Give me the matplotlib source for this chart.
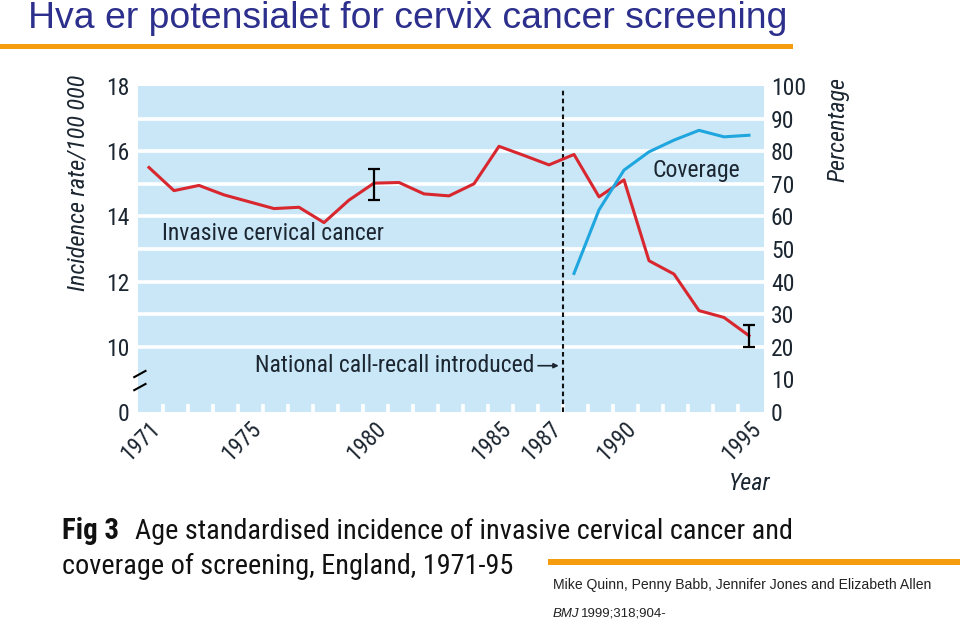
import matplotlib
matplotlib.use('Agg')
import matplotlib.pyplot as plt
from matplotlib import font_manager
from matplotlib.patches import Rectangle

# incidence of invasive cervical cancer per 100 000 (left axis)
years = list(range(1971, 1996))
incidence = [15.5, 14.79, 14.95, 14.66, 14.45, 14.24, 14.28, 13.81, 14.5, 15.02,
             15.04, 14.69, 14.63, 15.0, 16.15, 15.87, 15.58, 15.9, 14.6, 15.12,
             12.64, 12.23, 11.11, 10.9, 10.34]
# screening coverage in percent (right axis)
cov_years = list(range(1988, 1996))
coverage = [42.5, 62, 74.2, 79.8, 83.4, 86.4, 84.4, 84.9]
# confidence intervals
err_years = [1980, 1995]
err_low = [14.5, 10.0]
err_high = [15.46, 10.67]

year_labels = [1971, 1975, 1980, 1985, 1987, 1990, 1995]
left_ticks = [8, 10, 12, 14, 16, 18]   # axis is broken: 8 is shown as 0
left_labels = ['0', '10', '12', '14', '16', '18']
right_ticks = list(range(0, 101, 10))
grid_pct = list(range(20, 100, 10))
call_recall = 1987.56

RED = '#d8272e'
BLUE = '#1fa6df'
BG = '#c9e7f7'
DARK = '#1c2631'
ORANGE = '#f59d0e'
TITLE = '#2c2f8c'

avail = font_manager.fontManager.ttflist
names = {f.name for f in avail}
narrow = 'Roboto Condensed' if 'Roboto Condensed' in names else 'Liberation Sans'
nf = dict(family=narrow)

fig = plt.figure(figsize=(9.6, 6.21), dpi=100)
ax = fig.add_axes([138 / 960, 1 - 412 / 621, 626 / 960, 326 / 621])
ax2 = ax.twinx()

ax.set_facecolor(BG)
for a in (ax, ax2):
    for s in a.spines.values():
        s.set_visible(False)

ax.set_xlim(1970.56, 1995.6)
ax.set_ylim(8, 18)
ax2.set_ylim(0, 100)

# white bands
for p in grid_pct:
    ax.axhline(8 + p / 10, color='white', lw=2.6, zorder=1)

ax.plot(years, incidence, color=RED, lw=2.2, zorder=3)
mid = [(lo + hi) / 2 for lo, hi in zip(err_low, err_high)]
half = [(hi - lo) / 2 for lo, hi in zip(err_low, err_high)]
ax.errorbar(err_years, mid, yerr=half, fmt='none', ecolor='black', elinewidth=1.6,
            capsize=4, capthick=1.6, zorder=4)
ax2.plot(cov_years, coverage, color=BLUE, lw=2.2, zorder=3)

ax.axvline(call_recall, ymax=0.99, color='#111111', lw=1.5, ls=(0, (2.2, 1.6)), zorder=2)

# ticks
ax.set_xticks(year_labels)
ax.set_xticklabels([str(y) for y in year_labels], rotation=45, ha='right',
                   rotation_mode='anchor', fontsize=16.5, color=DARK, **nf)
ax.set_xticks([y + 0.56 for y in years[:-1]], minor=True)
ax.tick_params(axis='x', which='major', length=0, pad=4)
ax.tick_params(axis='x', which='minor', direction='in', length=6, width=2.6, color='white')
ax.set_yticks(left_ticks)
ax.set_yticklabels(left_labels, fontsize=17, color=DARK, **nf)
ax.tick_params(axis='y', length=0, pad=6)
ax2.set_yticks(right_ticks)
ax2.set_yticklabels([str(v) for v in right_ticks], fontsize=17, color=DARK, **nf)
ax2.tick_params(axis='y', length=0, pad=5)

# axis break marks
for y0 in (0.067, 0.107):
    ax.plot([-0.006, 0.012], [y0, y0 + 0.019], transform=ax.transAxes, color='black',
            lw=1.5, clip_on=False)

ax.text(1971.52, 13.49, 'Invasive cervical cancer', fontsize=17, color=DARK, ha='left',
        va='center', **nf)
ax2.text(1991.12, 74.2, 'Coverage', fontsize=17, color=DARK, ha='left', va='center', **nf)
ax.text(1975.24, 9.44, 'National call-recall introduced', fontsize=17, color=DARK,
        ha='left', va='center', **nf)
ax.annotate('', xy=(1987.5, 9.42), xytext=(1986.45, 9.42),
            arrowprops=dict(arrowstyle='-|>', lw=1.2, color=DARK, mutation_scale=7))

fig.text(78 / 960, 1 - 183 / 621, 'Incidence rate/100 000', rotation=90, ha='center',
         va='center', fontsize=17.6, style='italic', color=DARK, **nf)
fig.text(838 / 960, 1 - 130 / 621, 'Percentage', rotation=90, ha='center', va='center',
         fontsize=17.4, style='italic', color=DARK, **nf)
fig.text(750 / 960, 1 - 484 / 621, 'Year', ha='center', va='center', fontsize=17.4,
         style='italic', color=DARK, **nf)

# slide title and decorations
fig.text(28 / 960, 1 - 28 / 621, 'Hva er potensialet for cervix cancer screening',
         ha='left', va='baseline', fontsize=26.9, color=TITLE, family='Liberation Sans')
fig.add_artist(Rectangle((0, 1 - 49 / 621), 793 / 960, 5 / 621, transform=fig.transFigure,
                         color=ORANGE, lw=0))
fig.add_artist(Rectangle((548 / 960, 1 - 565 / 621), 412 / 960, 6 / 621,
                         transform=fig.transFigure, color=ORANGE, lw=0))

fig.text(62 / 960, 1 - 531 / 621, 'Fig 3', ha='left', va='center', fontsize=20.8,
         weight='bold', color='#111111', **nf)
fig.text(135 / 960, 1 - 531 / 621,
         'Age standardised incidence of invasive cervical cancer and',
         ha='left', va='center', fontsize=20.3, color='#111111', **nf)
fig.text(62 / 960, 1 - 566 / 621, 'coverage of screening, England, 1971-95',
         ha='left', va='center', fontsize=20.3, color='#111111', **nf)

fig.text(553 / 960, 1 - 585 / 621,
         'Mike Quinn, Penny Babb, Jennifer Jones and Elizabeth Allen',
         ha='left', va='center', fontsize=10.1, color='#222222', family='Liberation Sans')
fig.text(553 / 960, 1 - 614 / 621, 'BMJ', ha='left', va='center', fontsize=9.5,
         style='italic', color='#222222', family='Liberation Sans')
fig.text(581 / 960, 1 - 614 / 621, '1999;318;904-', ha='left', va='center', fontsize=9.5,
         color='#222222', family='Liberation Sans')

fig.savefig('out.png', dpi=100)
